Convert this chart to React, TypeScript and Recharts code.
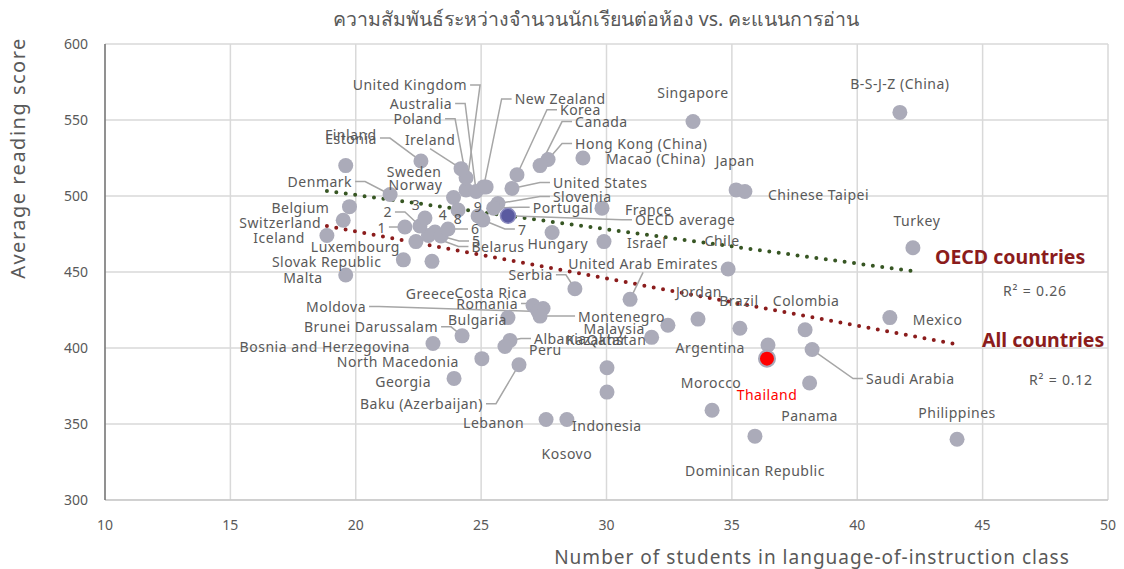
import { ScatterChart, Scatter, XAxis, YAxis, CartesianGrid, ReferenceLine } from "recharts"

// PISA 2018: class size vs reading score
const countries = [
  "B-S-J-Z (China)", "Singapore", "Macao (China)", "Hong Kong (China)", "Canada", "Korea",
  "New Zealand", "United Kingdom", "Australia", "Poland", "Ireland", "Estonia", "Finland",
  "Sweden", "Norway", "Denmark", "Belgium", "Switzerland", "Iceland", "Luxembourg",
  "Slovak Republic", "Malta", "Greece", "Belarus", "1", "2", "3", "4", "5", "6", "8", "9", "7",
  "Slovenia", "Portugal", "United States", "France", "Hungary", "Israel", "Chile",
  "United Arab Emirates", "Serbia", "Costa Rica", "Romania", "Moldova", "Montenegro",
  "Bulgaria", "Brunei Darussalam", "Bosnia and Herzegovina", "North Macedonia", "Georgia",
  "Baku (Azerbaijan)", "Albania", "Peru", "Kazakhstan", "Qatar", "Malaysia", "Jordan",
  "Brazil", "Colombia", "Argentina", "Saudi Arabia", "Mexico", "Turkey", "Japan",
  "Chinese Taipei", "Morocco", "Thailand", "Panama", "Dominican Republic", "Philippines",
  "Indonesia", "Lebanon", "Kosovo", "OECD average",
]
const classSize = [
  41.7, 33.45, 29.06, 27.67, 27.35, 26.43,
  25.1, 24.4, 24.8, 24.4, 24.2, 22.6, 19.6,
  25.2, 23.9, 21.37, 19.75, 19.5, 18.85, 22.4,
  21.9, 19.6, 23.04, 22.9, 21.96, 22.56, 22.76, 23.16, 23.4, 23.68, 24.08, 24.88, 25.07,
  25.67, 25.5, 26.23, 29.82, 27.83, 29.9, 34.85,
  30.94, 28.74, 27.47, 27.07, 27.27, 27.35,
  26.07, 24.24, 23.08, 25.03, 23.92,
  26.51, 26.15, 25.95, 30.02, 31.8, 32.45, 33.65,
  35.32, 37.92, 36.44, 38.2, 41.3, 42.22, 35.17,
  35.52, 34.21, 36.4, 38.1, 35.92, 43.98,
  30.02, 27.59, 28.42, 26.07,
]
const readingScore = [
  555, 549, 525, 524, 520, 514,
  506, 504, 503, 512, 518, 523, 520,
  506, 499, 501, 493, 484, 474, 470,
  458, 448, 457, 474, 479.6, 480.3, 485.5, 476.3, 473.7, 478.3, 490.8, 486.8, 484.2,
  495, 492, 505, 492, 476, 470, 452,
  432, 439, 426, 428, 424, 421,
  420, 408, 403, 393, 380,
  389, 405, 401, 387, 407, 415, 419,
  413, 412, 402, 399, 420, 466, 504,
  503, 359, 393, 377, 342, 340,
  371, 353, 353, 487,
]

const xTicks = [10, 15, 20, 25, 30, 35, 40, 45, 50]
const yTicks = [300, 350, 400, 450, 500, 550, 600]

// trend line end points
const oecdTrendX = [18.85, 42.15]
const oecdTrendY = [503.3, 450.7]
const allTrendX = [18.85, 43.9]
const allTrendY = [480.3, 402.6]

const points = countries.map((name, i) => ({ name, x: classSize[i], y: readingScore[i] }))

type Anchor = "start" | "middle" | "end"
// label offset from the point (px), text anchor, leader line
const labelLayout: Record<string, [number, number, Anchor, boolean?]> = {
  "B-S-J-Z (China)": [0, -29, "middle"],
  Singapore: [0, -29, "middle"],
  "Macao (China)": [23, 0, "start"],
  "Hong Kong (China)": [27, -16, "start", true],
  Canada: [35, -44, "start", true],
  Korea: [43, -65, "start", true],
  "New Zealand": [31, -88, "start", true],
  "United Kingdom": [1, -105, "end", true],
  Australia: [-24, -88, "end", true],
  Poland: [-24, -59, "end", true],
  Ireland: [-31, -29, "middle", true],
  Estonia: [-44, -23, "end", true],
  Finland: [31, -31, "end"],
  Sweden: [-72, -15, "middle"],
  Norway: [-38, -13, "middle"],
  Denmark: [-38, -13, "end", true],
  Belgium: [-20, 1, "end"],
  Switzerland: [-22, 2, "end"],
  Iceland: [-22, 2, "end"],
  Luxembourg: [-16, 5, "end"],
  "Slovak Republic": [-22, 2, "end"],
  Malta: [-23, 2, "end"],
  Greece: [23, 32, "end"],
  Belarus: [43, 11, "start", true],
  "1": [-19, 0, "end", true],
  "2": [-28, -14, "end", true],
  "3": [-9, -14, "middle"],
  "4": [8, -18, "middle"],
  "5": [31, 5, "start", true],
  "6": [23, 0, "start", true],
  "8": [0, 9, "middle"],
  "9": [0, -10, "middle"],
  "7": [35, 9, "start", true],
  Slovenia: [55, -7, "start", true],
  Portugal: [39, -1, "start", true],
  "United States": [41, -6, "start", true],
  "OECD average": [127, 4, "start", true],
  France: [23, 1, "start"],
  Hungary: [36, 11, "end"],
  Israel: [23, 1, "start"],
  Chile: [-6, -28, "middle"],
  "United Arab Emirates": [13, -36, "middle", true],
  Serbia: [-22, -14, "end", true],
  "Costa Rica": [-16, -16, "end"],
  Romania: [-15, -2, "end", true],
  Moldova: [-172, -5, "end", true],
  Montenegro: [38, 0, "start", true],
  Bulgaria: [-1, 2, "end"],
  "Brunei Darussalam": [-24, -9, "end", true],
  "Bosnia and Herzegovina": [-23, 3, "end"],
  "North Macedonia": [-23, 3, "end"],
  Georgia: [-23, 3, "end"],
  "Baku (Azerbaijan)": [-36, 39, "end", true],
  Albania: [24, -2, "start", true],
  Peru: [24, 3, "start"],
  Kazakhstan: [-41, -28, "start"],
  Qatar: [-25, 2, "end"],
  Malaysia: [-23, 3, "end"],
  Jordan: [1, -28, "middle"],
  Brazil: [-1, -28, "middle"],
  Colombia: [1, -29, "middle"],
  Argentina: [-23, 3, "end"],
  "Saudi Arabia": [54, 29, "start", true],
  Mexico: [23, 2, "start"],
  Turkey: [4, -27, "middle"],
  Japan: [-1, -29, "middle"],
  "Chinese Taipei": [23, 3, "start"],
  Morocco: [-1, -28, "middle"],
  Thailand: [0, 36, "middle"],
  Panama: [0, 33, "middle"],
  "Dominican Republic": [0, 34, "middle"],
  Philippines: [0, -27, "middle"],
  Indonesia: [-35, 33, "start"],
  Lebanon: [-22, 3, "end"],
  Kosovo: [0, 34, "middle"],
}

const FONT = "'Noto Sans', 'DejaVu Sans', sans-serif"
const TEXT = "#595959"
const DARK_RED = "#8b1c1c"

function PointShape(props: any) {
  const { cx, cy, payload } = props
  if (payload.name === "OECD average")
    return <circle cx={cx} cy={cy} r={7.5} fill="#5a5aa0" stroke="#8c8cc0" strokeWidth={1.5} />
  if (payload.name === "Thailand")
    return <circle cx={cx} cy={cy} r={8} fill="#ff0000" stroke="#a8a8b8" strokeWidth={2} />
  return <circle cx={cx} cy={cy} r={7.5} fill="#ababb9" />
}

function LeaderShape(props: any) {
  const { cx, cy, payload } = props
  const lay = labelLayout[payload.name]
  if (!lay || !lay[3]) return <g />
  const [dx, dy, anchor] = lay
  const lx = cx + dx
  const ly = cy + dy
  let ex = lx, ey = ly, hx = lx
  if (anchor === "start") { ex = lx - 3; hx = lx - 13 }
  else if (anchor === "end") { ex = lx + 3; hx = lx + 13 }
  else { ey = ly + 9; hx = lx }
  return (
    <path
      d={`M${ex},${ey} L${hx},${ey} L${cx},${cy}`}
      fill="none"
      stroke="#a6a6a6"
      strokeWidth={1.5}
    />
  )
}

function LabelShape(props: any) {
  const { cx, cy, payload } = props
  const lay = labelLayout[payload.name]
  if (!lay) return <g />
  const [dx, dy, anchor] = lay
  return (
    <text
      x={cx + dx}
      y={cy + dy}
      textAnchor={anchor}
      dominantBaseline="central"
      fontSize={14}
      fontFamily={FONT}
      letterSpacing={0.5}
      fill={payload.name === "Thailand" ? "#ff0000" : TEXT}
    >
      {payload.name}
    </text>
  )
}

const abs = (left: number, top: number, style: any = {}) => ({
  position: "absolute" as const,
  left,
  top,
  whiteSpace: "nowrap" as const,
  fontFamily: FONT,
  color: TEXT,
  ...style,
})

export default function App() {
  return (
    <div style={{ position: "relative", width: 1108, height: 561 }}>
      <ScatterChart width={1108} height={553} margin={{ top: 36, right: 8, bottom: 31, left: 37 }}>
        <CartesianGrid stroke="#d9d9d9" strokeWidth={1.5} />
        <XAxis
          type="number"
          dataKey="x"
          domain={[10, 50]}
          ticks={xTicks}
          height={30}
          tickLine={false}
          tickSize={0}
          tickMargin={20}
          axisLine={{ stroke: "#bfbfbf" }}
          tick={{ fontSize: 14, fill: TEXT, fontFamily: FONT }}
        />
        <YAxis
          type="number"
          dataKey="y"
          domain={[300, 600]}
          ticks={yTicks}
          width={60}
          tickLine={false}
          tickSize={0}
          tickMargin={17}
          axisLine={{ stroke: "#404040" }}
          tick={{ fontSize: 14, fill: TEXT, fontFamily: FONT }}
        />
        <ReferenceLine
          segment={[
            { x: oecdTrendX[0], y: oecdTrendY[0] },
            { x: oecdTrendX[1], y: oecdTrendY[1] },
          ]}
          stroke="#375623"
          strokeWidth={4}
          strokeDasharray="0 9.5"
          strokeLinecap="round"
        />
        <ReferenceLine
          segment={[
            { x: allTrendX[0], y: allTrendY[0] },
            { x: allTrendX[1], y: allTrendY[1] },
          ]}
          stroke={DARK_RED}
          strokeWidth={4}
          strokeDasharray="0 9.5"
          strokeLinecap="round"
        />
        <Scatter data={points} shape={LeaderShape} isAnimationActive={false} />
        <Scatter data={points} shape={PointShape} isAnimationActive={false} />
        <Scatter data={points} shape={LabelShape} isAnimationActive={false} />
      </ScatterChart>

      <div style={abs(588, 0, { transform: "translateX(-50%)", fontSize: 19.5, lineHeight: "22px" })}>
        ความสัมพันธ์ระหว่างจำนวนนักเรียนต่อห้อง vs. คะแนนการอ่าน
      </div>
      <div
        style={abs(804, 538, {
          transform: "translateX(-50%)",
          fontSize: 19,
          letterSpacing: 1,
          lineHeight: "22px",
        })}
      >
        Number of students in language-of-instruction class
      </div>
      <div
        style={abs(10, 150, {
          transform: "translate(-50%, -50%) rotate(-90deg)",
          fontSize: 20,
          letterSpacing: 1.5,
          lineHeight: "22px",
        })}
      >
        Average reading score
      </div>
      <div style={abs(927, 237, { fontSize: 19.5, fontWeight: 700, color: DARK_RED, lineHeight: "24px" })}>
        OECD countries
      </div>
      <div style={abs(974, 320, { fontSize: 19.5, fontWeight: 700, color: DARK_RED, lineHeight: "24px" })}>
        All countries
      </div>
      <div style={abs(995, 274, { fontSize: 14, letterSpacing: 0.8, lineHeight: "18px" })}>R² = 0.26</div>
      <div style={abs(1021, 363, { fontSize: 14, letterSpacing: 0.8, lineHeight: "18px" })}>R² = 0.12</div>
    </div>
  )
}
